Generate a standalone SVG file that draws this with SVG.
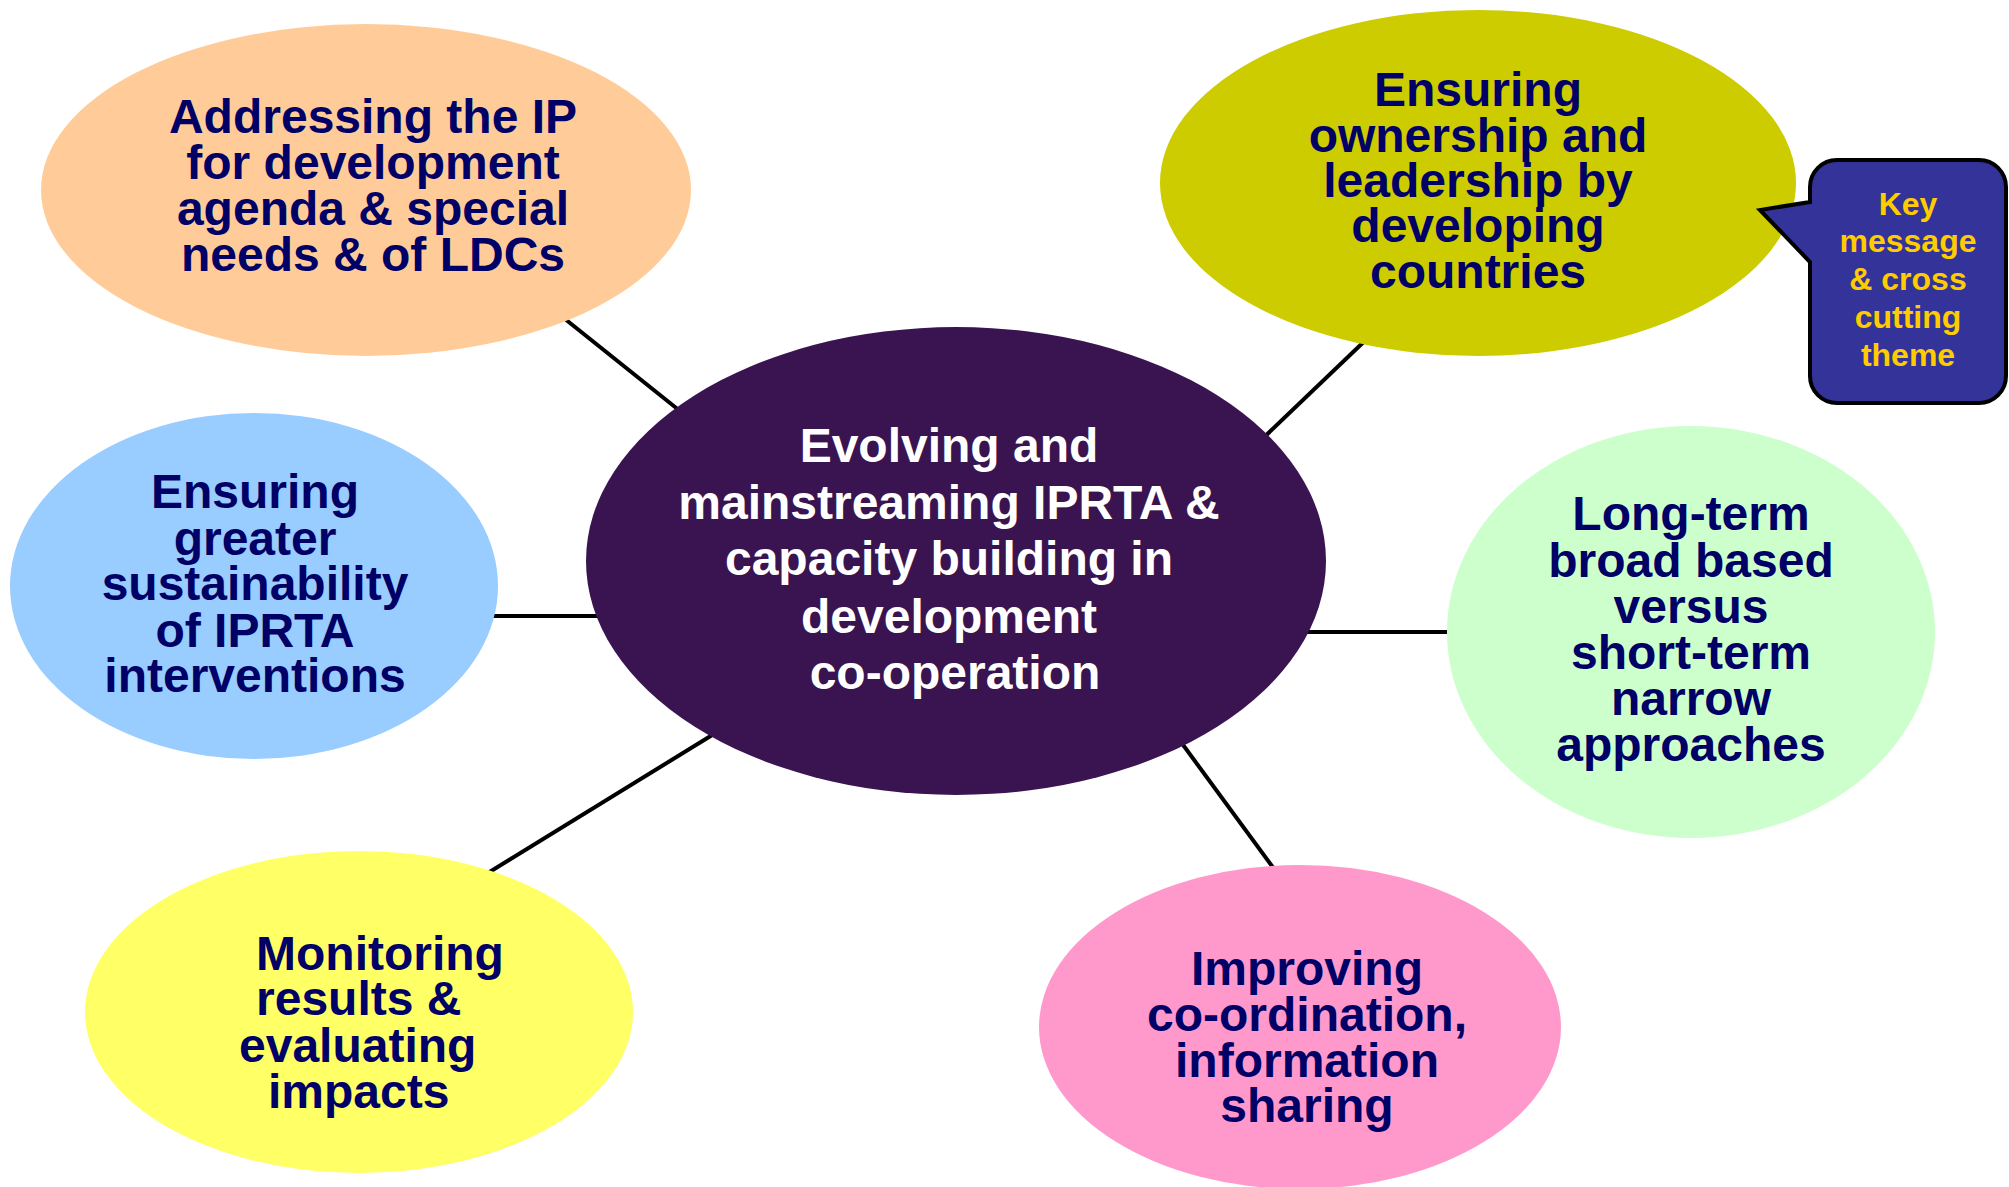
<svg xmlns="http://www.w3.org/2000/svg" width="2009" height="1187" viewBox="0 0 2009 1187">
<style>
.t{font-family:"Liberation Sans",Arial,sans-serif;font-weight:bold;font-size:48px;fill:#000066;text-anchor:middle}
.c{font-family:"Liberation Sans",Arial,sans-serif;font-weight:bold;font-size:48px;fill:#FFFFFF;text-anchor:middle}
.k{font-family:"Liberation Sans",Arial,sans-serif;font-weight:bold;font-size:32px;fill:#FFCC00;text-anchor:middle}
.ln{stroke:#000;stroke-width:4;fill:none}
</style>
<rect width="2009" height="1187" fill="#FFFFFF"/>
<g id="connectors">
<line class="ln" x1="560" y1="315" x2="690" y2="419"/>
<line class="ln" x1="1372" y1="334" x2="1258" y2="443"/>
<line class="ln" x1="490" y1="616" x2="605" y2="616"/>
<line class="ln" x1="1300" y1="632" x2="1455" y2="632"/>
<line class="ln" x1="483" y1="876" x2="722" y2="729"/>
<line class="ln" x1="1178" y1="738" x2="1277" y2="873"/>
</g>
<g id="node-center">
<ellipse cx="956" cy="561" rx="370" ry="234" fill="#3A1450"/>
<text class="c" x="949" y="462">Evolving and</text>
<text class="c" x="949" y="519">mainstreaming IPRTA &amp;</text>
<text class="c" x="949" y="575">capacity building in</text>
<text class="c" x="949" y="633">development</text>
<text class="c" x="955" y="689">co-operation</text>
</g>
<g id="node-ip">
<ellipse cx="366" cy="190" rx="325" ry="166" fill="#FFCC99"/>
<text class="t" x="373" y="133">Addressing the IP</text>
<text class="t" x="373" y="179">for development</text>
<text class="t" x="373" y="225">agenda &amp; special</text>
<text class="t" x="373" y="271">needs &amp; of LDCs</text>
</g>
<g id="node-ownership">
<ellipse cx="1478" cy="183" rx="318" ry="173" fill="#CCCC00"/>
<text class="t" x="1478" y="106">Ensuring</text>
<text class="t" x="1478" y="152">ownership and</text>
<text class="t" x="1478" y="197">leadership by</text>
<text class="t" x="1478" y="242">developing</text>
<text class="t" x="1478" y="288">countries</text>
</g>
<g id="node-sustainability">
<ellipse cx="254" cy="586" rx="244" ry="173" fill="#99CCFF"/>
<text class="t" x="255" y="508">Ensuring</text>
<text class="t" x="255" y="555">greater</text>
<text class="t" x="255" y="600">sustainability</text>
<text class="t" x="255" y="647">of IPRTA</text>
<text class="t" x="255" y="692">interventions</text>
</g>
<g id="node-longterm">
<ellipse cx="1691" cy="632" rx="244" ry="206" fill="#CCFFCC"/>
<text class="t" x="1691" y="530">Long-term</text>
<text class="t" x="1691" y="577">broad based</text>
<text class="t" x="1691" y="623">versus</text>
<text class="t" x="1691" y="669">short-term</text>
<text class="t" x="1691" y="715">narrow</text>
<text class="t" x="1691" y="761">approaches</text>
</g>
<g id="node-monitoring">
<ellipse cx="359" cy="1012" rx="274" ry="161" fill="#FFFF66"/>
<text class="t" x="256" y="970" style="text-anchor:start">Monitoring</text>
<text class="t" x="256" y="1015" style="text-anchor:start">results &amp;</text>
<text class="t" x="239" y="1062" style="text-anchor:start">evaluating</text>
<text class="t" x="268" y="1108" style="text-anchor:start">impacts</text>
</g>
<g id="node-coordination">
<ellipse cx="1300" cy="1027" rx="261" ry="162" fill="#FF99CC"/>
<text class="t" x="1307" y="985">Improving</text>
<text class="t" x="1307" y="1031">co-ordination,</text>
<text class="t" x="1307" y="1077">information</text>
<text class="t" x="1307" y="1122">sharing</text>
</g>
<g id="node-callout">
<path d="M1837,160 H1979 A27,27 0 0 1 2006,187 V376 A27,27 0 0 1 1979,403 H1837 A27,27 0 0 1 1810,376 V262 L1760,210 L1810,202 V187 A27,27 0 0 1 1837,160 Z" fill="#333399" stroke="#000" stroke-width="4" stroke-linejoin="miter"/>
<text class="k" x="1908" y="215">Key</text>
<text class="k" x="1908" y="252">message</text>
<text class="k" x="1908" y="290">&amp; cross</text>
<text class="k" x="1908" y="328">cutting</text>
<text class="k" x="1908" y="366">theme</text>
</g>
</svg>
